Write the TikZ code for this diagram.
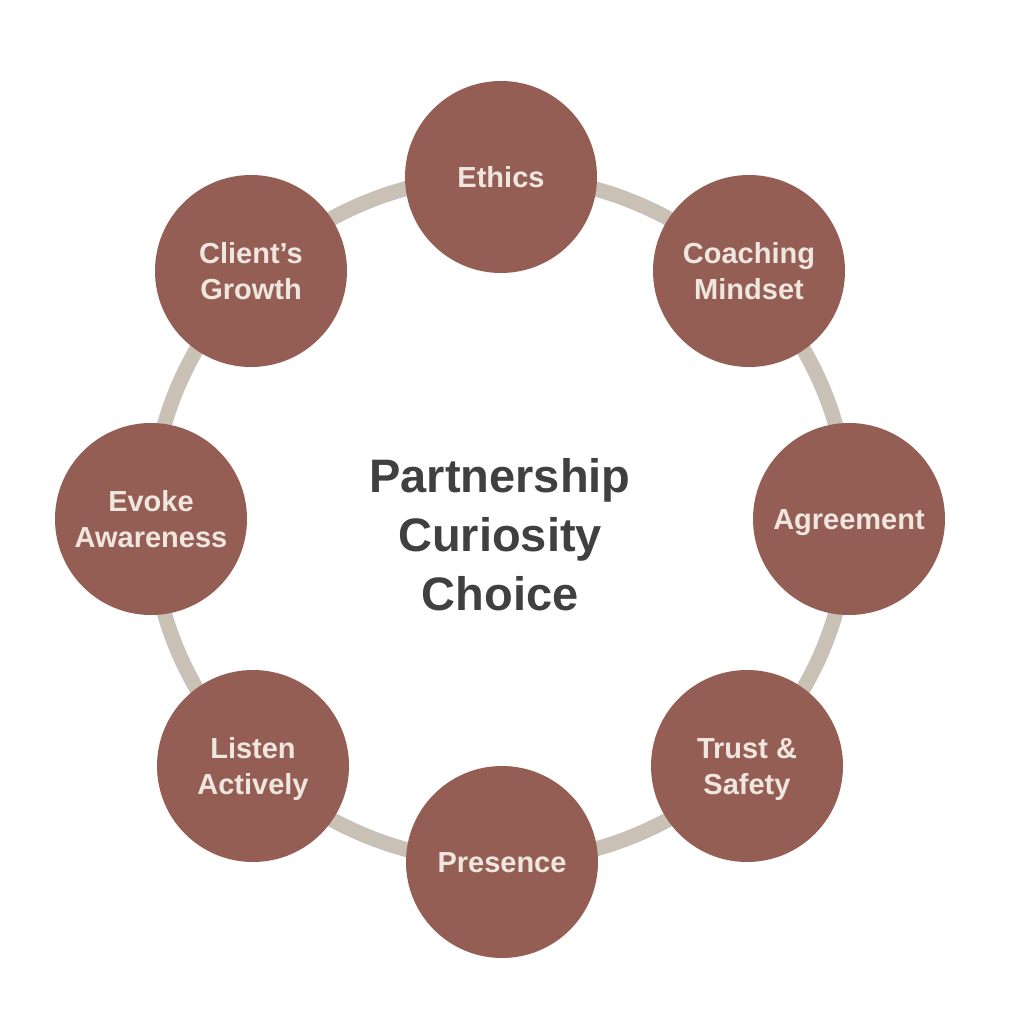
\documentclass[tikz,border=0pt]{standalone}
\usepackage{fontspec}
\setmainfont{Liberation Sans}
\newfontfamily\lblfont{Liberation Sans}
\definecolor{petal}{RGB}{149,94,85}
\definecolor{ringc}{RGB}{201,192,182}
\definecolor{lbltext}{RGB}{239,231,223}
\definecolor{midtext}{RGB}{64,64,64}
\newcommand{\lstrut}{\rule[-7pt]{0pt}{35pt}}
\newcommand{\cstrut}{\rule[-10pt]{0pt}{53.6pt}}
\begin{document}
\begin{tikzpicture}[x=1pt,y=-1pt,
  petalnode/.style={circle, fill=petal, draw=none, minimum size=192pt, inner sep=0pt,
    text=lbltext, align=center, font=\lblfont\bfseries\fontsize{29}{36}\selectfont},
  ringline/.style={draw=ringc, line width=15pt},
  centertext/.style={align=center, text=midtext, inner sep=0pt,
    font=\bfseries\fontsize{47}{59}\selectfont}]
\useasboundingbox (0,0) rectangle (1011,1024);
\fill[white] (0,0) rectangle (1011,1024);
\coordinate (ringcenter) at (500,519);
\draw[ringline] (ringcenter) ellipse [x radius=349pt, y radius=343pt];
\node[petalnode] (ethics) at (501,177) {\lstrut Ethics};
\node[petalnode] (coaching) at (749,271) {\lstrut Coaching\\\lstrut Mindset};
\node[petalnode] (agreement) at (849,519) {\lstrut Agreement};
\node[petalnode] (trust) at (747,766) {\lstrut Trust \&\\\lstrut Safety};
\node[petalnode] (presence) at (502,862) {\lstrut Presence};
\node[petalnode] (listen) at (253,766) {\lstrut Listen\\\lstrut Actively};
\node[petalnode] (evoke) at (151,519) {\lstrut Evoke\\\lstrut Awareness};
\node[petalnode] (client) at (251,271) {\lstrut Client’s\\\lstrut Growth};
\node[centertext] (core) at (500,535) {\cstrut Partnership\\\cstrut Curiosity\\\cstrut Choice};
\end{tikzpicture}
\end{document}
